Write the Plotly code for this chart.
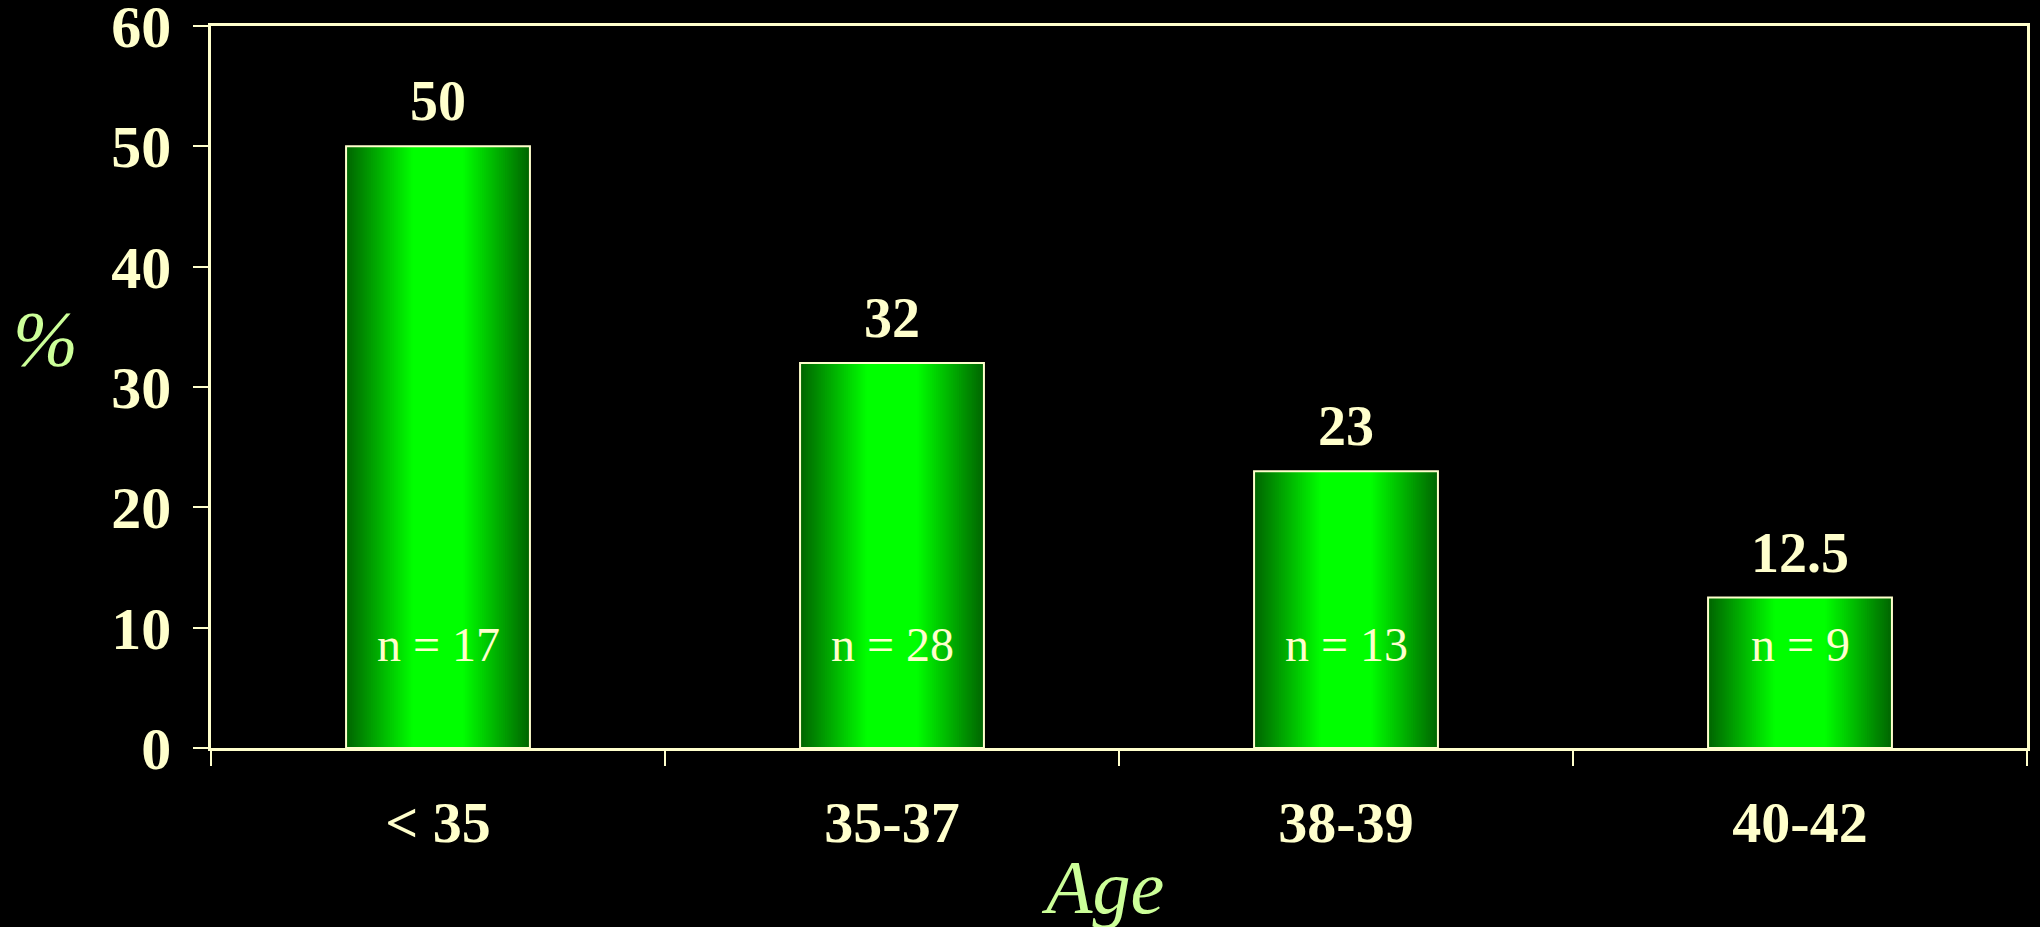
import plotly.graph_objects as go

categories = ["< 35", "35-37", "38-39", "40-42"]
values = [50, 32, 23, 12.5]
value_labels = ["50", "32", "23", "12.5"]
n_labels = ["n = 17", "n = 28", "n = 13", "n = 9"]
y_ticks = [0, 10, 20, 30, 40, 50, 60]

CREAM = "#FFFFCC"
TITLE_GREEN = "#CCFF99"
FONT = "Liberation Serif"
BAR_W = 0.405

fig = go.Figure()

# gradient emulation: overlaid bars of shrinking width, darker at the edges
N = 48
for k in range(N):
    f = 1 - k / N
    if f <= 0.28:
        g = 255
    else:
        t = (f - 0.28) / 0.72
        g = int(round(255 - (255 - 102) * t))
    w = BAR_W * f
    fig.add_trace(go.Bar(
        x=categories, y=values, width=w, offset=-w / 2,
        marker=dict(color=f"rgb(0,{g},0)", line=dict(width=0)),
        hoverinfo="skip", showlegend=False,
    ))

# outline
fig.add_trace(go.Bar(
    x=categories, y=values, width=BAR_W, offset=-BAR_W / 2,
    marker=dict(color="rgba(0,0,0,0)", line=dict(color=CREAM, width=2)),
    showlegend=False,
))

annotations = []
for c, v, lab, nl in zip(categories, values, value_labels, n_labels):
    annotations.append(dict(x=c, y=v, xref="x", yref="y", text=lab, showarrow=False,
                            yanchor="middle", yshift=45,
                            font=dict(family=FONT, size=56, color=CREAM, weight="bold")))
    annotations.append(dict(x=c, y=8.6, xref="x", yref="y", text=nl, showarrow=False,
                            yanchor="middle",
                            font=dict(family=FONT, size=48, color=CREAM)))

annotations.append(dict(x=-0.0914, y=0.567, xref="paper", yref="paper", text="%",
                        showarrow=False, xanchor="center", yanchor="middle",
                        font=dict(family=FONT, size=78, color=TITLE_GREEN, style="italic")))
annotations.append(dict(x=0.491, y=-0.193, xref="paper", yref="paper", text="Age",
                        showarrow=False, xanchor="center", yanchor="middle",
                        font=dict(family=FONT, size=76, color=TITLE_GREEN, style="italic")))

fig.update_layout(
    width=2040, height=927,
    paper_bgcolor="black", plot_bgcolor="black",
    margin=dict(l=211, r=13, t=26, b=179, autoexpand=False),
    barmode="overlay",
    annotations=annotations,
    xaxis=dict(
        type="category", range=[-0.5, 3.5], automargin=False,
        showline=True, linecolor=CREAM, linewidth=2.5, mirror=True,
        ticks="outside", tickson="boundaries", ticklen=15, tickwidth=2, tickcolor=CREAM,
        tickfont=dict(family=FONT, size=58, color=CREAM, weight="bold"),
        ticklabelstandoff=22,
        showgrid=False, zeroline=False, fixedrange=True,
    ),
    yaxis=dict(
        range=[0, 60], tickvals=y_ticks, automargin=False,
        showline=True, linecolor=CREAM, linewidth=2.5, mirror=True,
        ticks="outside", ticklen=15, tickwidth=2, tickcolor=CREAM,
        tickfont=dict(family=FONT, size=60, color=CREAM, weight="bold"),
        ticklabelstandoff=10, ticklabeloverflow="allow",
        showgrid=False, zeroline=False, fixedrange=True,
    ),
)

fig.write_html(
    "out.html",
    config={"displayModeBar": False},
    post_script="document.body.style.margin='0';document.body.style.background='black';document.body.style.overflow='hidden';",
)
